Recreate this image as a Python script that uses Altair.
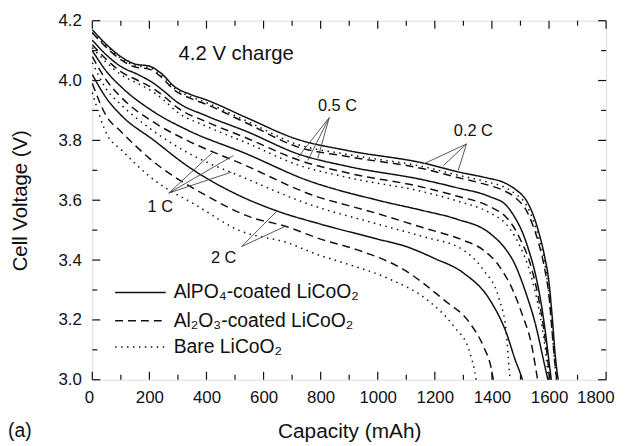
import altair as alt
import pandas as pd

materials = ["AlPO\u2084-coated LiCoO\u2082", "Al\u2082O\u2083-coated LiCoO\u2082", "Bare LiCoO\u2082"]
rates = ["0.2 C", "0.5 C", "1 C", "2 C"]

# 0.2 C
cap_02_a = [0,50,100,150,200,240,290,340,400,540,714,900,1160,1280,1380,1440,1484,1520,1545,1565,1585,1600,1612,1622,1632]
v_02_a = [4.17,4.12,4.08,4.055,4.048,4.025,3.978,3.955,3.935,3.876,3.805,3.765,3.724,3.695,3.675,3.66,3.635,3.60,3.55,3.49,3.41,3.325,3.2,3.08,3.0]
cap_02_b = [0,50,100,150,200,240,290,340,400,540,714,900,1160,1280,1380,1440,1484,1520,1545,1565,1585,1600,1611,1620,1627]
v_02_b = [4.16,4.11,4.07,4.045,4.038,4.013,3.966,3.942,3.92,3.858,3.78,3.745,3.705,3.676,3.652,3.633,3.607,3.567,3.512,3.452,3.37,3.28,3.16,3.06,3.0]
cap_02_c = [0,50,100,150,200,240,290,340,400,540,714,900,1160,1280,1380,1440,1484,1520,1545,1565,1585,1598,1609,1618,1625]
v_02_c = [4.16,4.115,4.075,4.05,4.043,4.02,3.972,3.948,3.926,3.865,3.788,3.752,3.712,3.684,3.662,3.645,3.62,3.585,3.532,3.472,3.39,3.30,3.18,3.08,3.0]

# 0.5 C
cap_05_a = [0,50,100,160,216,250,297,400,540,720,900,1160,1276,1392,1450,1480,1508,1530,1554,1575,1589,1600,1608]
v_05_a = [4.135,4.085,4.047,4.02,3.99,3.965,3.928,3.882,3.83,3.755,3.712,3.668,3.642,3.612,3.583,3.543,3.49,3.43,3.346,3.24,3.147,3.06,3.0]
cap_05_b = [0,50,100,160,216,250,297,400,540,720,900,1160,1276,1392,1450,1478,1500,1530,1555,1575,1590,1600,1604]
v_05_b = [4.12,4.07,4.03,4.0,3.972,3.948,3.91,3.862,3.808,3.735,3.69,3.643,3.614,3.579,3.543,3.508,3.468,3.40,3.31,3.21,3.11,3.03,3.0]
cap_05_c = [0,50,100,160,216,250,297,400,540,720,900,1160,1276,1392,1450,1478,1500,1530,1555,1575,1590,1598]
v_05_c = [4.11,4.06,4.02,3.99,3.96,3.935,3.895,3.847,3.792,3.718,3.675,3.628,3.598,3.558,3.52,3.483,3.443,3.37,3.28,3.18,3.08,3.0]

# 1 C
cap_1_a = [0,50,100,216,332,540,749,1000,1160,1276,1392,1450,1473,1519,1554,1582,1596]
v_1_a = [4.10,4.03,3.98,3.895,3.835,3.755,3.668,3.60,3.565,3.537,3.49,3.434,3.40,3.29,3.18,3.06,3.0]
cap_1_b = [0,50,100,216,332,540,749,1000,1160,1297,1369,1426,1473,1508,1537,1554,1560]
v_1_b = [4.08,4.0,3.945,3.86,3.80,3.715,3.625,3.555,3.508,3.467,3.434,3.379,3.30,3.213,3.125,3.036,3.0]
cap_1_c = [0,50,100,216,332,540,749,1000,1160,1299,1369,1426,1450,1461,1464]
v_1_c = [4.06,3.97,3.92,3.83,3.76,3.672,3.59,3.52,3.478,3.434,3.368,3.268,3.16,3.03,3.0]

# 2 C
cap_2_a = [0,50,100,216,332,505,644,800,1000,1100,1200,1300,1392,1450,1484,1500,1507]
v_2_a = [4.02,3.94,3.885,3.80,3.715,3.62,3.565,3.52,3.47,3.445,3.405,3.357,3.268,3.158,3.06,3.02,3.0]
cap_2_b = [0,50,100,200,400,550,679,800,929,1091,1230,1322,1369,1398,1405]
v_2_b = [3.99,3.88,3.83,3.74,3.615,3.545,3.512,3.47,3.434,3.368,3.268,3.19,3.114,3.036,3.0]
cap_2_c = [0,54,100,200,373,512,686,790,883,1045,1172,1265,1322,1340,1345]
v_2_c = [3.96,3.815,3.77,3.68,3.578,3.50,3.457,3.418,3.39,3.335,3.268,3.18,3.093,3.026,3.0]

curves = [
    ("0.2 C", 0, cap_02_a, v_02_a), ("0.2 C", 1, cap_02_b, v_02_b), ("0.2 C", 2, cap_02_c, v_02_c),
    ("0.5 C", 0, cap_05_a, v_05_a), ("0.5 C", 1, cap_05_b, v_05_b), ("0.5 C", 2, cap_05_c, v_05_c),
    ("1 C", 0, cap_1_a, v_1_a), ("1 C", 1, cap_1_b, v_1_b), ("1 C", 2, cap_1_c, v_1_c),
    ("2 C", 0, cap_2_a, v_2_a), ("2 C", 1, cap_2_b, v_2_b), ("2 C", 2, cap_2_c, v_2_c),
]

# annotation labels (text, capacity, voltage)
ann_text = ["0.5 C", "0.2 C", "1 C", "2 C"]
ann_cap = [859, 1335, 238, 460]
ann_v = [3.915, 3.832, 3.577, 3.408]

# pointer lines (from, to)
ptr_cap0 = [830, 830, 830, 1311, 1311, 1311, 268, 268, 268, 523, 523]
ptr_v0 = [3.876, 3.876, 3.876, 3.788, 3.788, 3.788, 3.624, 3.624, 3.624, 3.445, 3.445]
ptr_cap1 = [720, 755, 790, 1160, 1230, 1282, 422, 494, 488, 644, 679]
ptr_v1 = [3.743, 3.733, 3.74, 3.721, 3.716, 3.70, 3.76, 3.749, 3.694, 3.561, 3.514]

x_major = [0, 200, 400, 600, 800, 1000, 1200, 1400, 1600, 1800]
x_minor = [100, 300, 500, 700, 900, 1100, 1300, 1500, 1700]
y_major = [3.0, 3.2, 3.4, 3.6, 3.8, 4.0, 4.2]
y_minor = [3.1, 3.3, 3.5, 3.7, 3.9, 4.1]

W, H = 518, 362
FONT = "Liberation Sans"
INK = "#111111"

rows = []
for rate, mi, caps, vs in curves:
    for i, (c, v) in enumerate(zip(caps, vs)):
        rows.append({"rate": rate, "material": materials[mi], "cap": c, "v": v, "order": i})
df = pd.DataFrame(rows)

xs = alt.Scale(domain=[0, 1800], nice=False, zero=False)
ys = alt.Scale(domain=[3.0, 4.2], nice=False, zero=False)
dash_range = [[1, 0], [8, 5], [1.5, 4.5]]

lines = alt.Chart(df).mark_line(strokeWidth=1.5, color=INK, interpolate="monotone").encode(
    x=alt.X("cap:Q", scale=xs, title="Capacity (mAh)",
            axis=alt.Axis(values=x_major, ticks=False, domain=False, grid=False, labelPadding=10,
                          labelFlush=True, labelFlushOffset=8, labelOverlap=False,
                          labelFontSize=17, titleFontSize=21, titlePadding=15, format="d",
                          labelFont=FONT, titleFont=FONT, titleFontWeight="normal", labelColor=INK, titleColor=INK)),
    y=alt.Y("v:Q", scale=ys, title="Cell Voltage (V)",
            axis=alt.Axis(values=y_major, ticks=False, domain=False, grid=False, labelPadding=11,
                          labelFlush=False, labelOverlap=False,
                          labelFontSize=17, titleFontSize=20.5, titlePadding=28, format=".1f",
                          labelFont=FONT, titleFont=FONT, titleFontWeight="normal", labelColor=INK, titleColor=INK)),
    strokeDash=alt.StrokeDash("material:N", scale=alt.Scale(domain=materials, range=dash_range), legend=None),
    detail="rate:N",
    order="order:Q",
)

def xticks(vals, length, top):
    d = pd.DataFrame({"t": vals})
    if top:
        return alt.Chart(d).mark_rule(color=INK, strokeWidth=1.2).encode(
            x=alt.X("t:Q", scale=xs), y=alt.value(0), y2=alt.value(length))
    return alt.Chart(d).mark_rule(color=INK, strokeWidth=1.2).encode(
        x=alt.X("t:Q", scale=xs), y=alt.value(H), y2=alt.value(H - length))

def yticks(vals, length, right):
    d = pd.DataFrame({"t": vals})
    if right:
        return alt.Chart(d).mark_rule(color=INK, strokeWidth=1.2).encode(
            y=alt.Y("t:Q", scale=ys), x=alt.value(W), x2=alt.value(W - length))
    return alt.Chart(d).mark_rule(color=INK, strokeWidth=1.2).encode(
        y=alt.Y("t:Q", scale=ys), x=alt.value(0), x2=alt.value(length))

ticks = [xticks(x_major, 8, False), xticks(x_minor, 5, False), xticks(x_major, 8, True), xticks(x_minor, 5, True),
         yticks(y_major, 8, False), yticks(y_minor, 5, False), yticks(y_major, 8, True), yticks(y_minor, 5, True)]

ptr_df = pd.DataFrame({"c0": ptr_cap0, "v0": ptr_v0, "c1": ptr_cap1, "v1": ptr_v1})
pointers = alt.Chart(ptr_df).mark_rule(color="#444444", strokeWidth=0.9).encode(
    x=alt.X("c0:Q", scale=xs), y=alt.Y("v0:Q", scale=ys), x2="c1:Q", y2="v1:Q")

ann_df = pd.DataFrame({"t": ann_text, "c": ann_cap, "v": ann_v})
ann = alt.Chart(ann_df).mark_text(font=FONT, fontSize=16.5, color=INK, align="center", baseline="middle").encode(
    x=alt.X("c:Q", scale=xs), y=alt.Y("v:Q", scale=ys), text="t:N")

charge = alt.Chart(pd.DataFrame({"t": ["4.2 V charge"]})).mark_text(
    font=FONT, fontSize=20.5, color=INK, align="center", baseline="middle").encode(
    x=alt.value(145), y=alt.value(34), text="t:N")

panel = alt.Chart(pd.DataFrame({"t": ["(a)"]})).mark_text(
    font=FONT, fontSize=19.5, color=INK, align="left", baseline="middle").encode(
    x=alt.value(-85), y=alt.value(414), text="t:N")

legend_layers = []
leg_y = [274, 302.4, 329]
for i, m in enumerate(materials):
    d = pd.DataFrame({"t": [m]})
    legend_layers.append(alt.Chart(d).mark_rule(color=INK, strokeWidth=1.5, strokeDash=dash_range[i]).encode(
        x=alt.value(23), x2=alt.value(74), y=alt.value(leg_y[i])))
    legend_layers.append(alt.Chart(d).mark_text(font=FONT, fontSize=19.5, color=INK, align="left", baseline="middle").encode(
        x=alt.value(82), y=alt.value(leg_y[i]), text="t:N"))

chart = alt.layer(lines, *ticks, pointers, ann, charge, panel, *legend_layers).properties(
    width=W, height=H,
    autosize=alt.AutoSizeParams(type="none"),
    padding={"left": 85, "top": 11, "right": 12, "bottom": 65},
).configure_view(stroke=INK, strokeWidth=1.5).configure(background="white")

chart.save("out.html", embed_options={"renderer": "svg", "actions": False})
